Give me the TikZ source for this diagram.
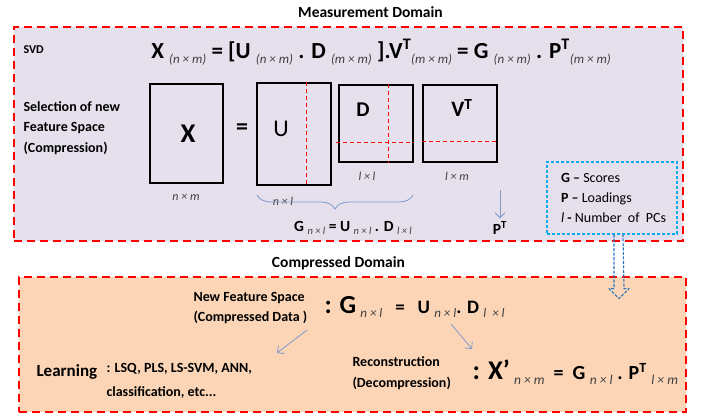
\documentclass[tikz,border=0pt]{standalone}
\usepackage{fontspec}
\setmainfont{Carlito}
\usepackage{tikz}
\usetikzlibrary{arrows.meta, positioning, calc, decorations.pathreplacing}
\definecolor{domred}{RGB}{255, 0, 0}
\definecolor{measfill}{RGB}{229, 224, 236}
\definecolor{compfill}{RGB}{251, 213, 181}
\definecolor{legblue}{RGB}{0, 170, 240}
\definecolor{arrblue}{RGB}{40, 115, 190}
\definecolor{softblue}{RGB}{125, 155, 205}
\newcommand{\dimlab}[2]{\raisebox{-0.45ex}{\fontsize{#1}{#1}\selectfont\mdseries\itshape\color{black!75}#2}}
\newcommand{\fsz}[1]{\fontsize{#1}{#1}\selectfont}
\newcommand{\fszl}[2]{\fontsize{#1}{#2}\selectfont}

\begin{document}
\begin{tikzpicture}[
  x=1pt, y=-1pt,
  domainbox/.style={draw=domred, line width=2.5pt, dash pattern=on 8pt off 5pt, inner sep=0pt},
  matbox/.style={draw=black, line width=1.8pt, inner sep=0pt},
  splitline/.style={draw=domred, line width=1pt, dash pattern=on 4pt off 3pt},
  softarrow/.style={draw=softblue, line width=0.8pt, -{Straight Barb[length=5pt, width=10pt]}},
  title/.style={font=\fsz{15.5}\bfseries},
  sidetext/.style={font=\fszl{14}{20.5}\bfseries, align=left, anchor=west},
  dimtext/.style={font=\fsz{12}\itshape, text=black!75}
]
  \useasboundingbox (0,0) rectangle (706,419);

  % measurement domain
  \node[domainbox, fill=measfill, minimum width=669pt, minimum height=214pt] (meas) at (348.5,134) {};
  \node[title] (meastitle) at (370.5,12) {Measurement Domain};
  \node[font=\fsz{12}\bfseries, anchor=west] (svd) at (20,50) {SVD};
  \node[font=\fsz{23}\bfseries] (svdeq) at (381,52) {X \dimlab{13}{(n × m)} = [U \dimlab{13}{(n × m)} . D \dimlab{13}{(m × m)} ].V\textsuperscript{T}\dimlab{13}{(m × m)} = G \dimlab{13}{(n × m)} . P\textsuperscript{T}\dimlab{13}{(m × m)}};
  \node[sidetext] (selection) at (20,128) {Selection of new\\Feature Space\\(Compression)};

  \node[matbox, minimum width=73pt, minimum height=99pt] (xmat) at (186.5,133.5) {};
  \node[font=\fsz{27}\bfseries] (xlab) at (188,134) {X};
  \node[font=\fsz{24}\bfseries] (eqsign) at (242,129) {=};
  \node[matbox, minimum width=74pt, minimum height=102pt] (umat) at (294,134) {};
  \node[font=\fsz{24}] (ulab) at (281,129) {U};
  \node[matbox, minimum width=74pt, minimum height=77pt] (dmat) at (376,123.5) {};
  \node[font=\fsz{21}\bfseries] (dlab) at (363,110) {D};
  \node[matbox, minimum width=74pt, minimum height=77pt] (vmat) at (460,123.5) {};
  \node[font=\fsz{22}\bfseries] (vlab) at (462,108) {V\textsuperscript{T}};

  \draw[splitline] ([xshift=50pt]umat.north west) -- ([xshift=50pt]umat.south west);
  \draw[splitline] ([xshift=50pt]dmat.north west) -- ([xshift=50pt]dmat.south west);
  \draw[splitline] ([shift={(-2pt,-58pt)}]dmat.north west) -- ([yshift=-58pt]dmat.north east);
  \draw[splitline] ([yshift=-57pt]vmat.north west) -- ([yshift=-57pt]vmat.north east);

  \node[dimtext] (xdim) at (186,197) {n × m};
  \node[dimtext] (udim) at (283,201) {n × l};
  \node[dimtext] (ddim) at (367,176) {l × l};
  \node[dimtext] (vdim) at (457,176) {l × m};

  \draw[draw=softblue, line width=0.8pt, decorate, decoration={brace, mirror, amplitude=14pt}] (257,195) -- (413,195);
  \node[font=\fsz{15.5}\bfseries] (geq) at (353,228) {G \dimlab{10.5}{n × l} = U \dimlab{10.5}{n × l} . D \dimlab{10.5}{l × l}};
  \node[font=\fsz{15.5}\bfseries] (ptnode) at (500,228) {P\textsuperscript{T}};
  \coordinate (pttop) at (500,190);
  \draw[softarrow] (pttop) -- (ptnode.north);

  \node[draw=legblue, line width=1.2pt, dash pattern=on 3pt off 2pt, minimum width=130pt, minimum height=72pt] (legend) at (612,198) {};
  \node[anchor=west, align=left, font=\fszl{14}{20}] (legendtext) at (557.5,198)
        {\textbf{G –} Scores\\\textbf{P –} Loadings\\\textit{l} \textbf{-} Number \ of \ PCs};

  % compressed domain
  \node[domainbox, fill=compfill, minimum width=667pt, minimum height=135pt] (comp) at (352.5,344.5) {};
  \node[title] (comptitle) at (338.5,263) {Compressed Domain};

  \coordinate (dbl) at ([xshift=6.5pt]legend.south);
  \draw[draw=arrblue, line width=1.1pt, dash pattern=on 3pt off 1.5pt, line join=round]
    ([xshift=-4.5pt]dbl) -- ++(0,54) -- ++(-5,0) -- ++(10,10) -- ++(10,-10) -- ++(-5,0) -- ([xshift=4.5pt]dbl);

  \node[sidetext, font=\fszl{14}{20}\bfseries] (newfeat) at (190,308) {New Feature Space\\(Compressed Data )};
  \node[font=\fsz{19}\bfseries, anchor=west] (compeq) at (321,307) {{\fsz{26}: G} \dimlab{13}{n × l} \ \ = \ \ U \dimlab{13}{n × l}. D \dimlab{13}{l \ × l}};
  \node[font=\fsz{17}\bfseries, anchor=west] (learning) at (33,372) {Learning};
  \node[sidetext, font=\fszl{14}{24}\bfseries] (methods) at (103,381) {: LSQ, PLS, LS-SVM, ANN,\\classification, etc...};
  \node[sidetext] (recon) at (349,373) {Reconstruction\\(Decompression)};
  \node[font=\fsz{20}\bfseries, anchor=west] (reconeq) at (469,372) {{\fsz{27}: X’} \dimlab{13.5}{n × m} \ = \ G \dimlab{13.5}{n × l} . P\textsuperscript{T} \dimlab{13.5}{l × m}};

  \coordinate (learnarr) at (307,330);
  \coordinate (reconarr) at (451,324);
  \draw[softarrow] (learnarr) -- (277,353);
  \draw[softarrow] (reconarr) -- (472,349);
\end{tikzpicture}
\end{document}
